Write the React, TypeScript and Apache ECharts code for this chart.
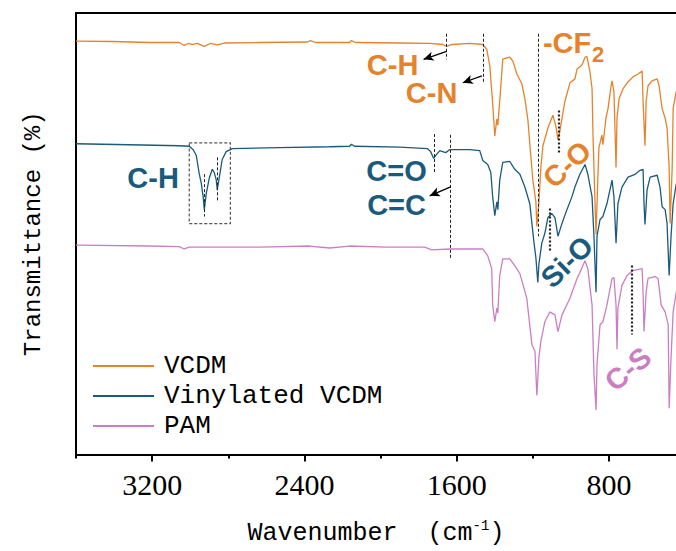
import React, { useEffect, useRef } from "react";
import * as echarts from "echarts";

// ---- data (wavenumber in cm^-1, offset transmittance in arbitrary %) ----
const vcdmWavenumber = [3600,3410,3216,3058,3032,3011,2989,2963,2926,2895,2858,2821,2637,2384,2368,2342,2163,2153,2132,1900,1742,1674,1653,1626,1532,1463,1442,1426,1411,1400,1389,1384,1368,1358,1321,1305,1284,1258,1242,1226,1211,1200,1184,1179,1168,1158,1147,1121,1095,1079,1068,1058,1032,1005,979,968,942,926,916,900,889,884,874,868,863,853,837,832,816,805,789,784,774,763,758,747,726,700,674,647,626,621,611,605,595,574,547,537,521,505,495,484,479,468,463,447,426,400];
const vcdmValue = [93.65,93.54,93.32,93.32,92.65,93.1,92.87,93.1,92.43,93.1,92.76,93.2,93.32,93.43,93.76,93.32,93.32,93.76,93.32,93.2,93.1,92.87,92.43,92.87,93.1,92.87,91.76,87.97,79.51,72.16,75.95,74.61,83.52,89.53,89.98,89.09,86.19,83.96,80.62,75.72,67.71,62.14,57.24,51.67,57.24,65.03,69.93,73.94,76.84,74.39,71.27,73.27,79.96,84.19,85.08,87.31,88.2,89.98,90.2,86.64,82.85,72.38,57.68,49.89,56.79,69.49,72.38,70.16,76.17,78.4,83.52,84.63,82.18,65.03,76.17,80.62,82.85,84.41,85.52,86.19,86.86,79.96,69.93,79.96,83.52,84.63,85.08,83.52,78.4,76.17,73.94,65.03,52.34,65.03,78.4,82.18,83.3,84.0];

const vinylWavenumber = [3600,3321,3058,3005,2984,2968,2953,2942,2932,2926,2916,2900,2884,2874,2863,2858,2847,2832,2811,2779,2532,2268,2163,2153,2137,1900,1753,1737,1721,1711,1689,1658,1637,1532,1479,1463,1437,1421,1411,1400,1389,1384,1374,1358,1321,1295,1268,1242,1216,1205,1195,1184,1174,1168,1153,1137,1121,1100,1084,1068,1047,1021,995,979,953,926,911,889,879,868,863,847,832,811,784,774,763,753,732,700,663,637,621,616,611,600,584,547,532,521,505,495,484,474,463,447,400];
const vinylValue = [70.38,70.16,69.93,69.82,69.04,67.71,63.7,61.47,58.35,55.46,59.02,62.58,64.59,63.92,62.14,59.91,62.81,66.82,68.6,69.27,69.49,69.71,69.82,70.27,69.82,69.6,69.27,68.6,67.04,67.71,68.82,68.37,69.04,69.04,68.82,66.59,65.7,63.92,58.35,54.12,57.24,55.46,62.14,66.15,66.37,64.59,63.47,60.58,56.79,52.34,48.33,44.54,38.98,43.21,47.88,50.11,53.67,54.57,53.67,49.44,52.34,55.46,58.35,60.58,63.47,65.7,63.47,58.35,49.44,36.75,49.44,53.23,53.9,56.79,62.14,58.35,47.88,56.79,60.58,62.81,63.47,64.37,64.59,56.79,52.12,59.91,62.81,63.25,60.58,56.12,55.46,52.34,40.53,49.44,56.79,61.25,62.81];

const pamWavenumber = [3600,3216,3058,3032,3005,2637,2374,2268,2163,1968,1768,1732,1637,1463,1437,1416,1411,1400,1389,1384,1374,1358,1321,1295,1268,1232,1205,1189,1179,1168,1158,1137,1111,1084,1068,1047,1005,968,953,926,911,889,879,868,863,847,832,811,784,774,763,758,753,732,705,674,626,621,616,605,595,558,542,526,505,489,484,474,463,447,400];
const pamValue = [47.44,47.22,47.1,46.55,46.99,46.99,47.22,46.77,47.22,46.99,46.99,46.33,46.55,46.55,44.99,42.09,33.85,30.07,33.18,32.07,40.53,44.32,44.32,42.76,40.98,35.41,24.94,23.39,13.36,22.05,25.61,30.07,32.29,31.63,27.84,31.63,35.41,39.87,41.2,43.88,42.09,33.85,18.26,10.02,20.49,29.4,30.07,33.85,39.87,40.09,33.85,23.83,33.18,38.31,40.53,41.65,42.09,36.75,27.84,36.75,39.87,40.31,39.87,33.85,32.29,29.4,10.47,22.05,32.29,36.75,38.31];

const seriesNames = ["VCDM", "Vinylated VCDM", "PAM"];
const majorTicks = [800, 1600, 2400, 3200];
const minorTicks = [1200, 2000, 2800, 3600];
const X_MIN = 448; // low-wavenumber end visible at the right edge
const X_MAX = 3600;

const ORANGE = "#E5832D";
const BLUE = "#1A5A7C";
const PINK = "#CC7EC3";

// annotation anchors in data coordinates
const dottedMarks = [
  { w: 1653, v1: 95.3, v2: 89.5, bold: false },
  { w: 1458, v1: 95.3, v2: 84.4, bold: false },
  { w: 1174, v1: 95.3, v2: 49.4, bold: false },
  { w: 1063, v1: 77.9, v2: 68.4, bold: true },
  { w: 2926, v1: 63.5, v2: 53.9, bold: false },
  { w: 2858, v1: 67.3, v2: 57.5, bold: false },
  { w: 1716, v1: 72.6, v2: 63.9, bold: false },
  { w: 1632, v1: 72.4, v2: 44.3, bold: false },
  { w: 1111, v1: 55.7, v2: 46.1, bold: true },
  { w: 679, v1: 42.8, v2: 27.2, bold: true },
];
const arrowMarks = [
  { w1: 1653, v1: 91.3, w2: 1774, v2: 89.5 },
  { w1: 1468, v1: 85.75, w2: 1568, v2: 84.2 },
  { w1: 1632, v1: 60.6, w2: 1742, v2: 58.6 },
];
const boxMark = { w1: 3005, v1: 70.6, w2: 2789, v2: 52.3 };
const labels = [
  { text: "C-H", w: 1937, v: 88.2, color: ORANGE, rot: 0 },
  { text: "C-N", w: 1732, v: 81.96, color: ORANGE, rot: 0 },
  { text: "-CF", w: 1147, v: 93.1, color: ORANGE, rot: 0, align: "left" },
  { text: "2", w: 889, v: 90.65, color: ORANGE, rot: 0, align: "left", size: 22 },
  { text: "C-O", w: 1021, v: 65.7, color: ORANGE, rot: 43 },
  { text: "C-H", w: 3195, v: 62.58, color: BLUE, rot: 0 },
  { text: "C=O", w: 1916, v: 64.14, color: BLUE, rot: 0 },
  { text: "C=C", w: 1916, v: 56.57, color: BLUE, rot: 0 },
  { text: "Si-O", w: 1021, v: 43.65, color: BLUE, rot: 44 },
  { text: "C-S", w: 700, v: 19.38, color: PINK, rot: 40 },
];

const zip = (a: number[], b: number[]) =>
  a.slice(0, Math.min(a.length, b.length)).map((x, i) => [x, b[i]]);

export default function App() {
  const ref = useRef<HTMLDivElement>(null);
  useEffect(() => {
    if (!ref.current) return;
    const chart = echarts.init(ref.current, null, { renderer: "svg" });
    const monoFont = "Liberation Mono";
    const baseX = { type: "value", inverse: true, min: X_MIN, max: X_MAX, splitLine: { show: false } };
    const option: any = {
      animation: false,
      backgroundColor: "#fff",
      grid: { left: 76, right: 0, top: 13, bottom: 89 },
      legend: {
        orient: "vertical",
        left: 87,
        top: 346,
        itemWidth: 61,
        itemHeight: 10,
        itemGap: 0,
        data: seriesNames,
        itemStyle: { opacity: 0 },
        textStyle: {
          fontFamily: monoFont,
          fontSize: 26,
          lineHeight: 30,
          color: "#000",
          padding: [0, 0, 0, 5],
        },
      },
      xAxis: [
        {
          ...baseX,
          name: "Wavenumber  (cm{sup|-1})",
          nameLocation: "middle",
          nameGap: 64,
          nameTextStyle: {
            fontFamily: monoFont,
            fontSize: 25,
            color: "#000",
            rich: {
              sup: { fontFamily: monoFont, fontSize: 14, verticalAlign: "top", lineHeight: 30, padding: [0, 0, 12, 0] },
            },
          },
          axisLine: { show: true, lineStyle: { color: "#000", width: 2 } },
          axisTick: { show: true, length: 7, inside: false, customValues: majorTicks, lineStyle: { color: "#000", width: 2 } },
          axisLabel: {
            customValues: majorTicks,
            formatter: (v: number) => String(v),
            margin: 15,
            fontFamily: "Liberation Serif",
            fontSize: 30,
            color: "#000",
          },
        },
        {
          ...baseX,
          position: "bottom",
          axisLine: { show: false },
          axisTick: { show: true, length: 4, customValues: minorTicks, lineStyle: { color: "#000", width: 2 } },
          axisLabel: { show: false },
        },
        {
          ...baseX,
          position: "top",
          axisLine: { show: true, lineStyle: { color: "#000", width: 2 } },
          axisTick: { show: false },
          axisLabel: { show: false },
        },
      ],
      yAxis: {
        type: "value",
        min: 0,
        max: 100,
        name: "Transmittance (%)",
        nameLocation: "middle",
        nameGap: 31,
        nameRotate: 90,
        nameTextStyle: { fontFamily: monoFont, fontSize: 24, color: "#000" },
        axisLine: { show: true, lineStyle: { color: "#000", width: 2 } },
        axisTick: { show: false },
        axisLabel: { show: false },
        splitLine: { show: false },
      },
      series: [
        {
          name: seriesNames[0],
          type: "line",
          symbol: "none",
          color: ORANGE,
          lineStyle: { width: 1.3, color: ORANGE },
          data: zip(vcdmWavenumber, vcdmValue),
          markLine: {
            silent: true,
            symbol: ["none", "none"],
            label: { show: false },
            data: [
              ...dottedMarks.map((d) => [
                { coord: [d.w, d.v1], lineStyle: { color: "#222", width: d.bold ? 2.2 : 1, type: d.bold ? [2, 2] : [3, 2] } },
                { coord: [d.w, d.v2], lineStyle: { color: "#222", width: d.bold ? 2.2 : 1, type: d.bold ? [2, 2] : [3, 2] } },
              ]),
              ...arrowMarks.map((a) => [
                { coord: [a.w1, a.v1], symbol: "none", lineStyle: { color: "#000", width: 1.3, type: "solid" } },
                { coord: [a.w2, a.v2], symbol: "arrow", symbolSize: [7, 10], itemStyle: { color: "#000" }, lineStyle: { color: "#000", width: 1.3, type: "solid" } },
              ]),
            ],
          },
          markArea: {
            silent: true,
            itemStyle: { color: "rgba(0,0,0,0)", borderColor: "#555", borderWidth: 1.2, borderType: [3, 2] },
            data: [[{ coord: [boxMark.w1, boxMark.v1] }, { coord: [boxMark.w2, boxMark.v2] }]],
          },
        },
        {
          name: seriesNames[1],
          type: "line",
          symbol: "none",
          color: BLUE,
          lineStyle: { width: 1.3, color: BLUE },
          data: zip(vinylWavenumber, vinylValue),
        },
        {
          name: seriesNames[2],
          type: "line",
          symbol: "none",
          color: PINK,
          lineStyle: { width: 1.3, color: PINK },
          data: zip(pamWavenumber, pamValue),
        },
      ],
    };
    chart.setOption(option);
    const graphics = labels.map((l) => {
      const p = chart.convertToPixel({ xAxisIndex: 0, yAxisIndex: 0 }, [l.w, l.v]) as number[];
      return {
        type: "text",
        x: p[0],
        y: p[1],
        rotation: (l.rot * Math.PI) / 180,
        z: 100,
        style: {
          text: l.text,
          fill: l.color,
          fontFamily: "Liberation Sans",
          fontWeight: "bold",
          fontSize: l.size || 29,
          align: l.align || "center",
          verticalAlign: "middle",
        },
      };
    });
    chart.setOption({ graphic: graphics });
    return () => chart.dispose();
  }, []);
  return (
    <div
      ref={ref}
      style={{ position: "absolute", left: 0, top: 0, width: 676, height: 551, background: "#fff" }}
    />
  );
}
